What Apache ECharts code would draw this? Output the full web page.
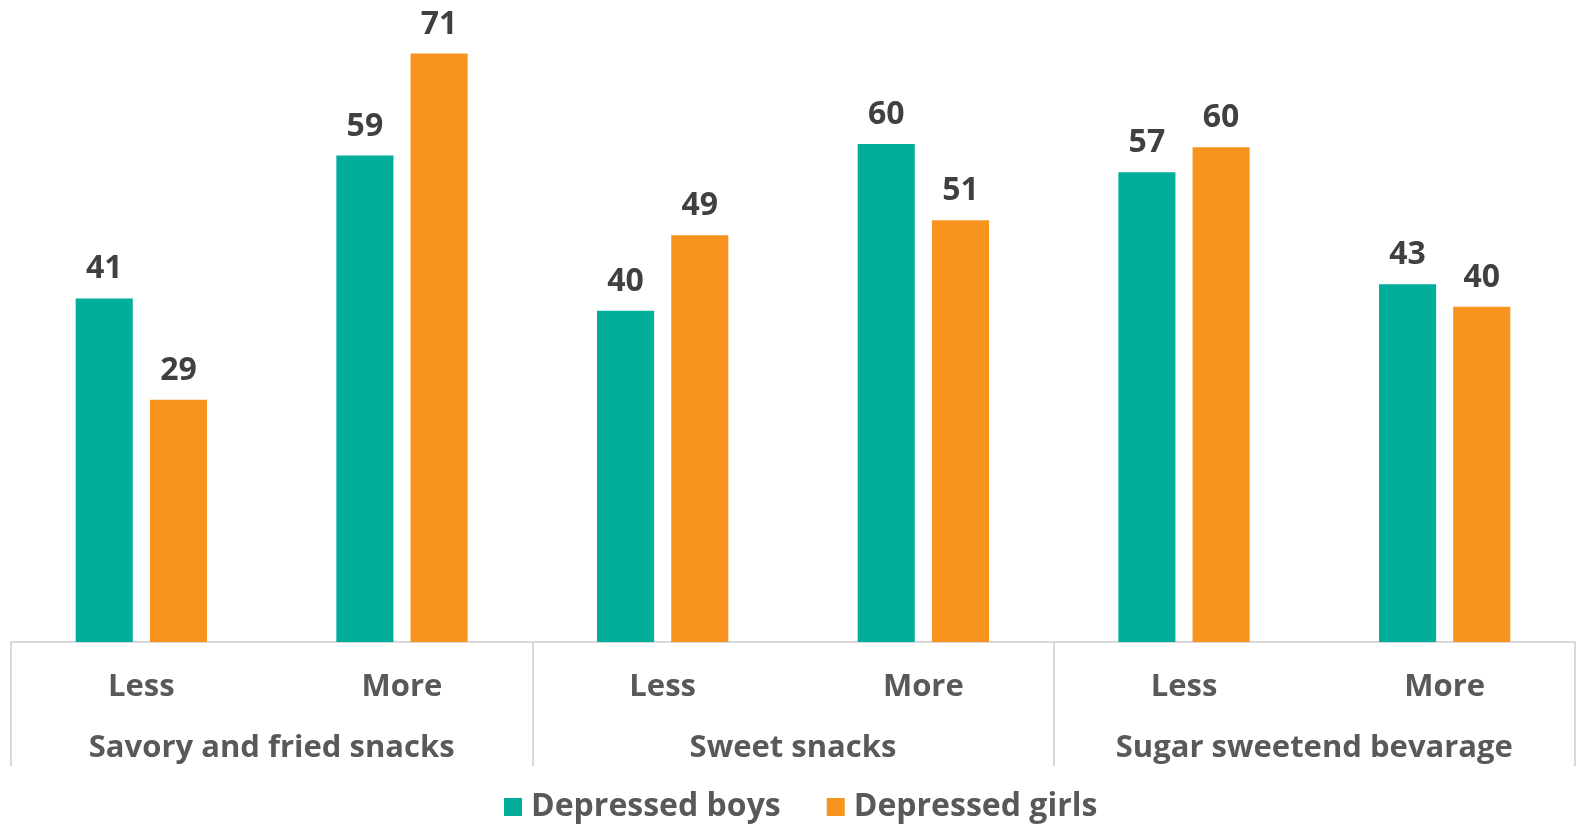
<!DOCTYPE html>
<html><head><meta charset="utf-8">
<script src="https://cdn.jsdelivr.net/npm/echarts@6/dist/echarts.min.js"></script>
<style>html,body{margin:0;padding:0;background:#fff}#c{width:1583px;height:828px}</style>
</head><body><div id="c"></div>
<script>
const subCategories = ['Less','More','Less','More','Less','More'];
const groups = ['Savory and fried snacks','Sweet snacks','Sugar sweetend bevarage'];
const boys = [41.4, 58.6, 39.9, 60.0, 56.6, 43.1];
const girls = [29.2, 70.9, 49.0, 50.8, 59.6, 40.4];
const seriesNames = ['Depressed boys','Depressed girls'];

const FONT = '"Open Sans"';
const chart = echarts.init(document.getElementById('c'));
const lbl = {show:true, position:'top', distance:13, fontFamily:FONT, fontWeight:'bold', fontSize:32, color:'#404040',
  formatter: p => Math.round(p.value)};
chart.setOption({
  animation:false,
  grid:{left:11, right:8, top:19.5, bottom:186},
  legend:{bottom:0, left:499, itemWidth:18, itemHeight:18, itemGap:46, icon:'rect',
    textStyle:{fontFamily:FONT, fontWeight:'bold', fontSize:32, color:'#595959', padding:[0,0,0,4]}, data:seriesNames},
  xAxis:[
    {type:'category', data:subCategories, position:'bottom',
     axisLine:{lineStyle:{color:'#d9d9d9', width:2}}, axisTick:{show:false},
     axisLabel:{fontFamily:FONT, fontWeight:'bold', fontSize:31, color:'#595959', margin:30}},
    {type:'category', data:groups, position:'bottom',
     axisLine:{show:false},
     axisTick:{show:true, length:124, lineStyle:{color:'#d9d9d9', width:2}},
     axisLabel:{fontFamily:FONT, fontWeight:'bold', fontSize:31, color:'#595959', margin:91}}
  ],
  yAxis:{type:'value', min:0, max:75, show:false, splitLine:{show:false}},
  series:[
    {name:seriesNames[0], type:'bar', data:boys, barWidth:'21.9%', barGap:'30%', itemStyle:{color:'#00ae9b'}, label:lbl},
    {name:seriesNames[1], type:'bar', data:girls, barWidth:'21.9%', barGap:'30%', itemStyle:{color:'#f7931e'}, label:lbl}
  ]
});
</script></body></html>
